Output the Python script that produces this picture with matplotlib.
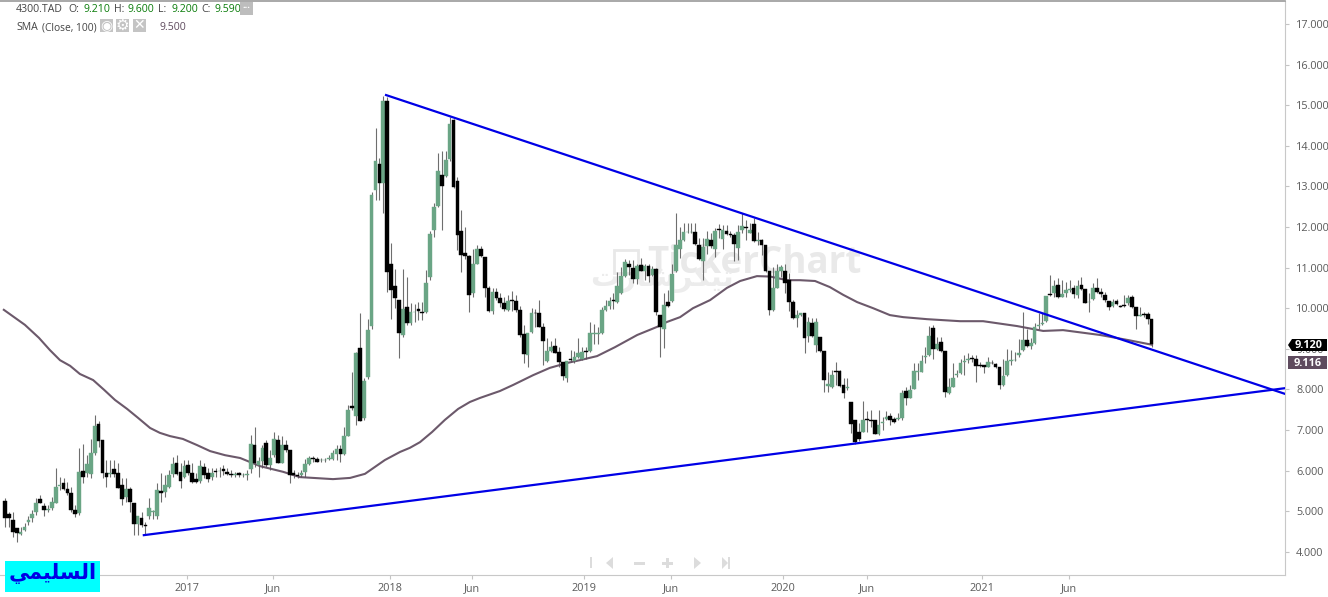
import matplotlib
matplotlib.use("Agg")
import numpy as np
import matplotlib.pyplot as plt
from matplotlib.patches import Polygon, Rectangle
from matplotlib.ticker import FormatStrFormatter

W, H = 1328, 597
STEP = 3.9  # pixels per weekly candle

plt.rcParams["font.family"] = ["Open Sans", "DejaVu Sans"]

opens = [
    5.25,4.92,4.78,4.58,4.44,4.54,4.73,4.83,4.98,5.30,
    5.13,5.04,5.08,5.21,5.62,5.69,5.54,5.44,5.03,4.95,
    5.98,5.93,5.92,6.43,7.15,6.75,5.93,5.91,6.03,5.93,
    5.64,5.35,5.55,5.20,4.69,4.83,4.65,4.88,4.98,4.89,
    5.49,5.47,5.60,5.92,6.18,5.97,5.85,6.13,5.93,5.79,
    5.74,6.08,5.93,5.85,5.99,5.98,6.03,5.97,5.92,5.89,
    5.93,5.88,5.89,6.04,6.63,6.14,6.23,6.68,6.14,6.38,
    6.75,6.19,6.63,6.51,5.93,5.90,5.88,5.97,6.16,6.31,
    6.28,6.25,6.26,6.29,6.29,6.41,6.53,6.41,6.85,7.59,
    7.35,9.01,7.30,8.31,9.55,12.91,13.55,13.08,15.10,11.10,
    10.55,10.20,9.34,10.02,9.63,9.90,9.97,9.91,9.91,10.76,
    11.93,12.52,13.28,13.26,13.67,14.64,13.13,11.89,11.37,11.29,
    10.37,11.10,11.45,11.27,10.49,9.93,10.40,10.26,10.12,9.96,
    10.19,10.18,9.96,9.36,8.85,9.42,9.88,9.87,9.54,8.70,
    8.95,9.07,8.91,8.68,8.27,8.74,8.70,8.79,8.75,8.94,
    8.95,9.36,9.37,9.38,9.96,10.05,10.20,10.16,10.37,10.80,
    11.10,11.00,10.72,11.06,10.92,11.04,10.83,10.97,9.83,9.48,
    10.16,10.18,10.92,11.47,11.68,11.87,11.87,11.88,11.55,11.16,
    11.52,11.68,11.46,11.94,11.70,11.89,11.83,11.80,11.49,11.93,
    12.00,11.86,12.07,11.65,11.68,11.56,10.92,9.96,10.50,10.92,
    10.92,10.69,10.15,9.75,9.83,9.87,9.32,9.64,9.09,9.30,
    8.95,8.09,8.07,8.46,8.45,8.11,8.03,7.69,7.25,6.94,
    6.96,7.27,7.25,7.25,6.90,7.17,7.28,7.34,7.26,7.26,
    7.29,7.96,7.80,8.02,8.43,8.44,8.80,8.85,9.51,9.00,
    9.16,8.95,7.90,8.07,8.36,8.40,8.68,8.73,8.77,8.74,
    8.60,8.59,8.56,8.66,8.62,8.54,8.11,8.35,8.70,8.72,
    8.85,8.97,9.22,9.08,9.15,9.57,9.62,9.69,10.34,10.37,
    10.57,10.28,10.37,10.45,10.49,10.33,10.56,10.48,10.15,10.23,
    10.50,10.40,10.33,10.17,10.06,10.18,10.05,10.07,10.12,10.27,
    10.04,9.82,9.85,9.85,9.73,
]
highs = [
    5.32,4.99,4.99,4.58,4.62,4.70,4.87,5.03,5.32,5.40,
    5.19,5.15,5.36,6.06,5.85,5.81,5.73,5.60,5.15,6.55,
    6.66,6.38,6.77,7.37,7.21,6.75,6.26,6.26,6.26,6.18,
    5.81,5.81,5.60,5.20,4.88,4.99,4.74,5.32,5.03,5.69,
    5.93,5.89,6.02,6.34,6.38,6.18,6.26,6.26,6.18,5.93,
    6.26,6.18,6.06,6.06,6.06,6.10,6.14,6.06,6.02,5.97,
    5.97,5.93,6.02,6.88,7.07,6.34,6.63,6.75,6.51,6.94,
    6.88,6.84,6.75,6.51,6.02,5.97,6.02,6.28,6.36,6.36,
    6.34,6.30,6.30,6.38,6.51,6.63,6.63,7.08,7.62,8.44,
    8.92,9.87,8.27,9.73,12.85,14.43,13.69,15.23,15.20,11.60,
    10.96,10.20,10.96,10.78,10.12,10.10,10.16,10.16,10.94,11.90,
    12.58,13.83,13.86,13.86,14.72,14.66,13.24,12.42,12.01,11.31,
    11.47,11.56,11.52,11.27,10.55,10.49,10.49,10.37,10.28,10.33,
    10.42,10.33,10.05,9.59,9.40,10.01,9.99,10.19,9.63,9.26,
    9.18,9.26,9.05,8.68,8.70,8.97,8.95,9.26,9.05,9.05,
    9.65,9.60,9.54,10.04,10.19,10.28,10.37,10.90,11.02,11.20,
    11.19,11.19,11.10,11.23,11.10,11.10,11.04,10.98,9.83,10.37,
    10.45,11.10,12.34,12.01,12.09,12.11,12.09,12.11,11.72,11.72,
    11.90,11.84,11.98,12.07,12.05,12.05,11.89,11.84,12.05,12.34,
    12.17,12.09,12.21,11.88,11.70,11.56,10.92,11.02,11.10,11.06,
    11.10,10.86,10.20,9.96,9.89,9.87,9.79,9.75,9.75,9.30,
    8.95,8.44,8.48,8.68,8.48,8.27,8.27,7.69,7.25,7.17,
    7.72,7.48,7.49,7.25,7.49,7.33,7.48,7.41,7.33,7.41,
    7.99,8.07,8.11,8.64,8.64,8.85,9.05,9.55,9.59,9.30,
    9.30,8.95,8.27,8.66,8.49,8.74,8.85,8.89,8.85,8.85,
    8.68,8.60,8.79,8.72,8.64,8.54,8.76,8.99,8.97,8.93,
    9.23,9.91,9.50,9.26,9.63,9.87,9.87,10.30,10.82,10.69,
    10.74,10.69,10.65,10.69,10.57,10.69,10.78,10.48,10.37,10.61,
    10.74,10.49,10.41,10.18,10.22,10.22,10.08,10.33,10.33,10.33,
    10.04,10.04,9.91,9.91,9.73,
]
lows = [
    4.62,4.62,4.37,4.25,4.41,4.52,4.65,4.74,4.91,5.19,
    4.88,4.99,5.03,5.19,5.52,5.52,5.40,4.99,4.85,4.91,
    5.69,5.85,5.81,6.38,6.59,5.81,5.60,5.85,5.85,5.56,
    5.15,5.23,4.99,4.41,4.41,4.62,4.41,4.82,4.80,4.82,
    5.23,5.36,5.56,5.85,5.89,5.56,5.81,5.89,5.69,5.69,
    5.69,5.81,5.73,5.77,5.85,5.85,5.89,5.89,5.85,5.85,
    5.85,5.85,5.77,5.93,6.10,5.85,6.06,6.08,6.02,6.34,
    6.18,6.18,6.47,5.69,5.81,5.81,5.85,5.85,6.14,6.22,
    6.20,6.22,6.22,6.26,6.26,6.26,6.20,6.38,6.84,7.50,
    7.12,7.21,7.25,8.25,9.50,12.67,12.67,12.34,10.41,9.73,
    10.00,8.77,9.30,9.59,9.59,9.67,9.72,9.70,9.87,10.70,
    11.76,12.50,11.93,13.24,13.63,12.95,11.43,10.88,11.20,9.91,
    10.28,11.09,11.27,10.28,9.91,9.85,10.19,10.04,9.94,9.93,
    9.92,9.91,9.30,8.64,8.54,9.40,9.54,9.53,8.60,8.68,
    8.93,8.89,8.56,8.23,8.19,8.68,8.64,8.77,8.72,8.74,
    8.93,9.13,9.13,9.36,9.94,9.99,9.99,10.14,10.35,10.78,
    10.82,10.61,10.60,10.91,10.69,10.65,10.80,9.83,8.81,9.01,
    10.04,10.16,10.90,11.23,11.66,11.85,11.85,11.56,11.19,10.69,
    11.33,11.49,11.27,11.72,11.47,11.80,11.76,11.16,11.19,11.86,
    11.68,11.84,11.64,11.56,11.31,10.90,9.83,9.92,10.49,10.78,
    10.37,9.92,9.73,9.54,9.81,8.89,9.17,9.30,8.93,8.93,
    7.94,7.94,8.04,8.11,8.07,7.78,7.99,6.92,6.65,6.74,
    6.94,6.96,7.08,6.90,6.88,7.00,7.25,7.12,7.17,7.25,
    7.25,7.62,7.78,8.00,8.23,8.42,8.64,8.82,8.74,8.97,
    8.93,7.81,7.89,8.05,8.30,8.38,8.35,8.64,8.68,8.19,
    8.56,8.41,8.54,8.63,8.52,8.00,8.09,8.33,8.60,8.70,
    8.81,8.95,9.05,8.99,9.13,9.48,9.59,9.65,10.29,10.28,
    10.24,10.27,10.28,10.41,10.26,10.24,10.45,10.12,9.91,10.20,
    10.38,10.28,10.16,9.96,10.04,10.08,10.02,10.04,10.08,10.01,
    9.50,9.80,9.79,9.61,9.05,
]
closes = [
    4.84,4.84,4.50,4.46,4.50,4.61,4.78,4.92,5.19,5.20,
    5.04,5.05,5.23,5.60,5.64,5.54,5.46,5.03,4.93,5.97,
    5.85,6.16,6.43,7.11,6.72,5.93,5.85,5.93,5.91,5.58,
    5.31,5.54,5.23,4.69,4.88,4.65,4.63,5.08,5.00,5.52,
    5.46,5.64,5.89,6.16,5.92,5.75,6.11,5.95,5.73,5.73,
    6.11,5.90,5.79,5.94,5.97,6.00,5.98,5.92,5.89,5.92,
    5.90,5.90,5.91,6.66,6.18,6.23,6.56,6.14,6.31,6.78,
    6.19,6.63,6.51,5.90,5.88,5.87,5.93,6.16,6.31,6.29,
    6.21,6.27,6.27,6.31,6.43,6.52,6.40,6.85,7.49,7.55,
    8.89,7.23,8.21,9.46,12.79,13.63,13.09,15.10,10.90,10.46,
    10.24,9.38,9.99,9.63,9.91,9.91,9.92,9.87,10.61,11.83,
    12.50,13.38,13.02,13.65,14.54,12.99,11.80,11.31,11.29,10.33,
    11.08,11.46,11.29,10.49,9.93,10.40,10.26,10.13,9.98,10.18,
    10.17,9.95,9.34,8.87,9.38,9.87,9.87,9.54,9.18,8.95,
    9.05,8.90,8.68,8.34,8.70,8.72,8.81,8.90,8.93,8.93,
    9.39,9.38,9.39,9.96,10.05,10.18,10.18,10.55,10.79,11.13,
    11.01,10.72,11.04,10.92,11.05,10.80,10.96,9.90,9.54,10.08,
    10.05,10.84,11.56,11.68,11.87,11.88,11.88,11.57,11.21,11.51,
    11.70,11.52,11.90,11.92,11.92,11.83,11.80,11.59,11.87,12.02,
    11.98,11.93,11.66,11.68,11.56,10.92,9.96,10.50,10.92,11.02,
    10.63,10.15,9.75,9.83,9.87,9.27,9.67,9.32,9.67,8.95,
    8.23,8.13,8.35,8.44,8.08,7.92,8.05,7.16,6.71,6.78,
    7.25,7.25,7.23,6.90,7.12,7.20,7.31,7.25,7.20,7.29,
    7.92,7.80,7.99,8.45,8.45,8.70,8.83,9.32,9.00,9.12,
    8.95,7.94,8.07,8.27,8.38,8.64,8.71,8.76,8.76,8.58,
    8.58,8.54,8.67,8.64,8.56,8.11,8.32,8.70,8.72,8.73,
    8.90,9.22,9.08,9.14,9.53,9.59,9.64,10.30,10.32,10.55,
    10.28,10.35,10.45,10.47,10.34,10.55,10.48,10.14,10.16,10.49,
    10.40,10.34,10.19,10.04,10.16,10.10,10.03,10.06,10.26,10.04,
    9.82,9.84,9.83,9.73,9.12,
]

sma_weeks = [
    -0.3, 5.1, 8.7, 11.5, 14.1, 16.7, 19.2, 22.6, 25.4, 28.2, 31.3, 34.1,
    37.2, 39.7, 42.3, 45.6, 49.2, 52.6, 56.4, 60.3, 65.4, 71.3, 75.6, 84.1,
    88.5, 92.3, 97.4, 101.3, 103.8, 106.4, 109.5, 112.8, 116.2, 119.2, 121.8,
    126.9, 130.3, 135.4, 139.7, 144.1, 147.4, 151.8, 156.4, 162.1, 167.2,
    169.7, 173.1, 176.4, 180.8, 185.1, 188.5, 192.8, 196.2, 200.5, 203.8,
    207.7, 211.5, 214.9, 218.5, 222.6, 226.9, 230.3, 236.4, 244.9, 250.8,
    259.5, 266.2, 271.3, 280.8, 287.7, 294.1,
]
sma_values = [
    9.96, 9.59, 9.27, 8.97, 8.72, 8.58, 8.38, 8.23, 7.99, 7.74, 7.52, 7.30,
    7.05, 6.93, 6.85, 6.78, 6.63, 6.48, 6.38, 6.31, 6.11, 5.97, 5.84, 5.79,
    5.82, 5.92, 6.26, 6.46, 6.56, 6.70, 6.95, 7.25, 7.52, 7.69, 7.79,
    7.96, 8.11, 8.35, 8.53, 8.65, 8.72, 8.82, 9.04, 9.34, 9.54,
    9.66, 9.78, 10.00, 10.20, 10.50, 10.67, 10.79, 10.78, 10.69, 10.69,
    10.67, 10.52, 10.33, 10.15, 10.00, 9.83, 9.78, 9.73, 9.68, 9.68,
    9.56, 9.44, 9.46, 9.34, 9.22, 9.10,
]

upper_trend_weeks = [97.7, 328.2]
upper_trend_prices = [15.25, 7.89]
lower_trend_weeks = [35.6, 328.2]
lower_trend_prices = [4.41, 8.03]

price_ticks = list(range(4, 18))
date_tick_weeks = [46.7, 68.7, 98.7, 119.7, 148.5, 170.8, 199.5, 221.0, 250.5, 272.8]
date_tick_labels = ["2017", "Jun", "2018", "Jun", "2019", "Jun", "2020", "Jun", "2021", "Jun"]

GREEN = "#6aa585"
BLACK = "#000000"
WICK = "#6e6e6e"
SMA_COLOR = "#5f4b5e"
BLUE = "#0000e6"
GREY_TEXT = "#5a5a5a"
ICON = "#dcdcdc"


def fx(px):
    return px / W


def fy(py):
    return 1 - py / H


def put_text(px, py, s, **kwargs):
    kwargs.setdefault("va", "center")
    kwargs.setdefault("fontsize", 7.6)
    kwargs.setdefault("color", "#444444")
    fig.text(fx(px), fy(py), s, **kwargs)


def put_rect(x0, y0, x1, y1, color, zorder=5):
    fig.add_artist(Rectangle((fx(x0), fy(y1)), fx(x1) - fx(x0), fy(y0) - fy(y1),
                             transform=fig.transFigure, facecolor=color,
                             edgecolor="none", zorder=zorder))


def put_poly(points, color, zorder=5):
    pts = [(fx(x), fy(y)) for x, y in points]
    fig.add_artist(Polygon(pts, closed=True, transform=fig.transFigure,
                           facecolor=color, edgecolor="none", zorder=zorder))


fig = plt.figure(figsize=(W / 100, H / 100), dpi=100)
ax = fig.add_axes([0, fy(575), fx(1285), fy(1) - fy(575)])

weeks = np.arange(len(opens))
o = np.array(opens)
h = np.array(highs)
l = np.array(lows)
c = np.array(closes)
up = c >= o

ax.vlines(weeks, l, h, color=WICK, linewidth=0.8, zorder=2)
ax.plot(sma_weeks, sma_values, color=SMA_COLOR, linewidth=1.5, alpha=0.92, zorder=3)
ax.bar(weeks[up], (c - o)[up], bottom=o[up], width=0.95, color=GREEN,
       edgecolor=GREEN, linewidth=0.3, zorder=4)
ax.bar(weeks[~up], (c - o)[~up], bottom=o[~up], width=0.95, color=BLACK,
       edgecolor=BLACK, linewidth=0.3, zorder=4)

ax.plot(upper_trend_weeks, upper_trend_prices, color=BLUE, linewidth=1.6, zorder=5)
ax.plot(lower_trend_weeks, lower_trend_prices, color=BLUE, linewidth=1.6, zorder=5)

ax.set_xlim((0 - 5) / STEP, (1285 - 5) / STEP)
ax.set_ylim(17 - (575 - 24) / 40.6, 17 + 23 / 40.6)

ax.yaxis.tick_right()
ax.set_yticks(price_ticks)
ax.yaxis.set_major_formatter(FormatStrFormatter("%.3f"))
ax.tick_params(axis="y", length=3, width=0.8, color="#c4c4c4", labelcolor=GREY_TEXT,
               labelsize=7.8, pad=5)
ax.set_xticks(date_tick_weeks)
ax.set_xticklabels(date_tick_labels)
ax.tick_params(axis="x", length=3, width=0.8, color="#c4c4c4", labelcolor=GREY_TEXT,
               labelsize=7.8, pad=3)

ax.spines["left"].set_visible(False)
ax.spines["right"].set_color("#c8c8c8")
ax.spines["bottom"].set_color("#c8c8c8")
ax.spines["top"].set_color("#9a9a9a")
ax.spines["top"].set_linewidth(1.2)

# watermark sits under the axes, which have a see-through patch
ax.patch.set_alpha(0)
fig.text(fx(647), fy(263), "TickerChart", fontsize=26.5, fontweight="bold",
         color="#e9e9e9", va="center", zorder=-1)
fig.text(fx(590), fy(278), "\ufe95\ufead\ufe8e\ufeb7\ufeae\ufedc\ufef4\ufe97",
         fontsize=21, fontweight="bold", color="#ececec", va="center",
         family="DejaVu Sans", zorder=-1)
fig.add_artist(Rectangle((fx(614), fy(273)), fx(24), fy(250) - fy(273),
                         transform=fig.transFigure, facecolor="none",
                         edgecolor="#e8e8e8", linewidth=2, zorder=-1))

# header line
put_text(16, 10, "4300.TAD")
head_green = "#0b7d0b"
for px, label, px_val, val in [(68, "O:", 83, "9.210"), (114, "H:", 128, "9.600"),
                               (158, "L:", 171, "9.200"), (201, "C:", 215, "9.590")]:
    put_text(px, 10, label)
    put_text(px_val, 10, val, color=head_green)
put_rect(240, 2, 253, 15, "#bdbdbd")
put_text(246.5, 6, "...", color="white", ha="center", fontsize=7, fontweight="bold", zorder=6)

put_text(16, 27.5, "SMA")
put_text(42, 27.5, "(Close, 100)", fontsize=7.4)
for x0 in (100, 116, 133):
    put_rect(x0, 19, x0 + 13, 32, "#c4c4c4")
put_text(106.5, 25.5, "\u25c9", color="white", ha="center", fontsize=10, family="DejaVu Sans", zorder=6)
put_text(122.5, 25.5, "\u2699", color="white", ha="center", fontsize=11, family="DejaVu Sans", zorder=6)
put_text(139.5, 25.5, "\u2715", color="white", ha="center", fontsize=10, family="DejaVu Sans", zorder=6)
put_text(160, 27.5, "9.500", color=SMA_COLOR)

# price tags on the right axis
put_poly([(1288, 345), (1292, 339), (1327, 339), (1327, 351), (1292, 351)], "black", zorder=6)
put_text(1309, 346, "9.120", color="white", fontweight="bold", fontsize=7.8, ha="center", zorder=7)
put_rect(1288, 356, 1327, 369, SMA_COLOR, zorder=6)
put_text(1308, 363.5, "9.116", color="white", fontweight="bold", fontsize=7.8, ha="center", zorder=7)

# name tag
put_rect(5, 561, 100, 592, "#00ffff", zorder=6)
put_text(52.5, 574, "\ufef2\ufee4\ufef4\ufee0\ufeb4\ufedf\ufe8d", color="#0000e6", ha="center",
         fontsize=15, fontweight="bold", family="DejaVu Sans", zorder=7)

# navigation glyphs
put_rect(590, 557, 591.5, 568, ICON)
put_poly([(613, 557), (613, 569), (606, 563)], ICON)
put_rect(634, 561.5, 645, 564.5, ICON)
put_rect(662, 561.5, 673, 564.5, ICON)
put_rect(666, 558, 669, 568, ICON)
put_poly([(694, 557), (694, 569), (701, 563)], ICON)
put_poly([(722, 557), (722, 569), (728, 563)], ICON)
put_rect(728, 557, 729.5, 569, ICON)

fig.savefig("out.png", dpi=100)
plt.close(fig)
